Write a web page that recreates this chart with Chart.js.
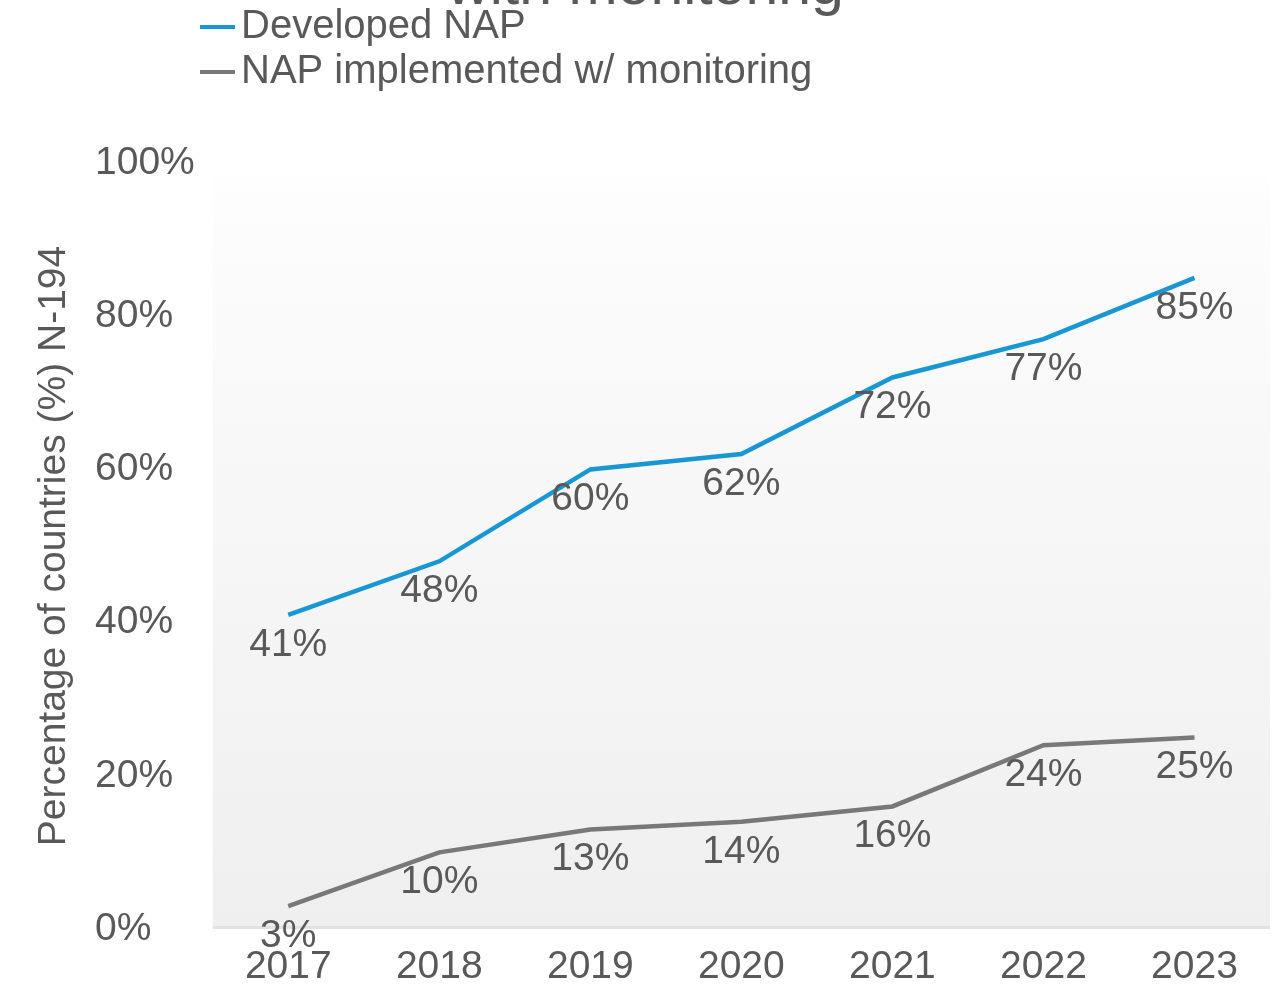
<!DOCTYPE html>
<html>
<head>
<meta charset="utf-8">
<script src="https://cdn.jsdelivr.net/npm/chart.js@4.4.1/dist/chart.umd.min.js"></script>
<style>
  html, body { margin: 0; padding: 0; background: #ffffff; }
  #wrap { position: relative; width: 1285px; height: 984px; overflow: hidden; }
  #chart { position: absolute; left: 0; top: -50px; }
</style>
</head>
<body>
<div id="wrap"><canvas id="chart" width="1285" height="1080"></canvas></div>
<script>
// Share of countries (N-194), per year
const years = ['2017', '2018', '2019', '2020', '2021', '2022', '2023'];
const developedNap = [41, 48, 60, 62, 72, 77, 85];
const napWithMonitoring = [3, 10, 13, 14, 16, 24, 25];
const yTickValues = [0, 20, 40, 60, 80, 100];

const seriesNames = ['Developed NAP', 'NAP implemented w/ monitoring'];
const seriesColors = ['#1897d4', '#787878'];
const axisTitle = 'Percentage of countries (%) N-194';
const chartTitle = 'with monitoring';

const FONT = "'Liberation Sans', Arial, sans-serif";
const TEXT = '#595959';

// soft grey panel behind the plot
const panelPlugin = {
  id: 'panel',
  beforeDraw(chart) {
    const { ctx, chartArea: a } = chart;
    const g = ctx.createLinearGradient(0, a.top, 0, a.bottom);
    g.addColorStop(0, '#ffffff');
    g.addColorStop(0.08, '#fcfcfc');
    g.addColorStop(1, '#efefef');
    ctx.save();
    ctx.fillStyle = g;
    ctx.fillRect(a.left, a.top, a.right - a.left, a.bottom - a.top);
    ctx.fillStyle = '#e2e2e2';
    ctx.fillRect(a.left, a.bottom - 3, a.right - a.left, 3);
    ctx.restore();
  }
};

// value labels under each point
const valueLabelPlugin = {
  id: 'valueLabels',
  afterDatasetsDraw(chart) {
    const { ctx } = chart;
    ctx.save();
    ctx.font = '39px ' + FONT;
    ctx.fillStyle = TEXT;
    ctx.textAlign = 'center';
    ctx.textBaseline = 'middle';
    chart.data.datasets.forEach((ds, i) => {
      const meta = chart.getDatasetMeta(i);
      meta.data.forEach((pt, j) => {
        ctx.fillText(ds.data[j] + '%', pt.x, pt.y + 30);
      });
    });
    ctx.restore();
  }
};

// title, stacked legend at the top left and the rotated axis title
const annotationsPlugin = {
  id: 'titleLegendAxisTitle',
  afterDraw(chart) {
    const { ctx, chartArea: a, width } = chart;
    ctx.save();
    ctx.fillStyle = TEXT;

    ctx.font = '59px ' + FONT;
    ctx.textAlign = 'center';
    ctx.textBaseline = 'alphabetic';
    ctx.fillText(chartTitle, width / 2 + 3, 54);

    ctx.font = '40px ' + FONT;
    ctx.textBaseline = 'middle';
    ctx.textAlign = 'left';
    const rows = [77, 122];
    chart.data.datasets.forEach((ds, i) => {
      ctx.strokeStyle = ds.borderColor;
      ctx.lineWidth = 4;
      ctx.beginPath();
      ctx.moveTo(200, rows[i]);
      ctx.lineTo(235, rows[i]);
      ctx.stroke();
      ctx.fillText(ds.label, 241, rows[i]);
    });

    ctx.font = '39px ' + FONT;
    ctx.translate(54, (a.top + a.bottom) / 2);
    ctx.rotate(-Math.PI / 2);
    ctx.textAlign = 'center';
    ctx.fillText(axisTitle, 0, 0);
    ctx.restore();
  }
};

new Chart(document.getElementById('chart'), {
  type: 'line',
  data: {
    labels: years,
    datasets: [
      {
        label: seriesNames[0],
        data: developedNap,
        borderColor: seriesColors[0],
        backgroundColor: seriesColors[0],
        borderWidth: 4.5,
        pointRadius: 0,
        tension: 0
      },
      {
        label: seriesNames[1],
        data: napWithMonitoring,
        borderColor: seriesColors[1],
        backgroundColor: seriesColors[1],
        borderWidth: 4.5,
        pointRadius: 0,
        tension: 0
      }
    ]
  },
  options: {
    responsive: false,
    animation: false,
    devicePixelRatio: 1,
    layout: { padding: { top: 213, left: 95, right: 15, bottom: 24 } },
    plugins: {
      legend: { display: false },
      tooltip: { enabled: false },
      title: { display: false }
    },
    scales: {
      x: {
        offset: true,
        grid: { display: false, drawTicks: false },
        border: { display: false },
        ticks: {
          color: TEXT,
          padding: 19,
          maxRotation: 0,
          font: { family: FONT, size: 39, lineHeight: 1 }
        }
      },
      y: {
        min: 0,
        max: 100,
        afterBuildTicks(scale) {
          scale.ticks = yTickValues.map(v => ({ value: v }));
        },
        grid: { display: false, drawTicks: false },
        border: { display: false },
        ticks: {
          color: TEXT,
          padding: 9,
          crossAlign: 'far',
          font: { family: FONT, size: 39, lineHeight: 1 },
          callback: v => v + '%'
        }
      }
    }
  },
  plugins: [panelPlugin, valueLabelPlugin, annotationsPlugin]
});
</script>
</body>
</html>
